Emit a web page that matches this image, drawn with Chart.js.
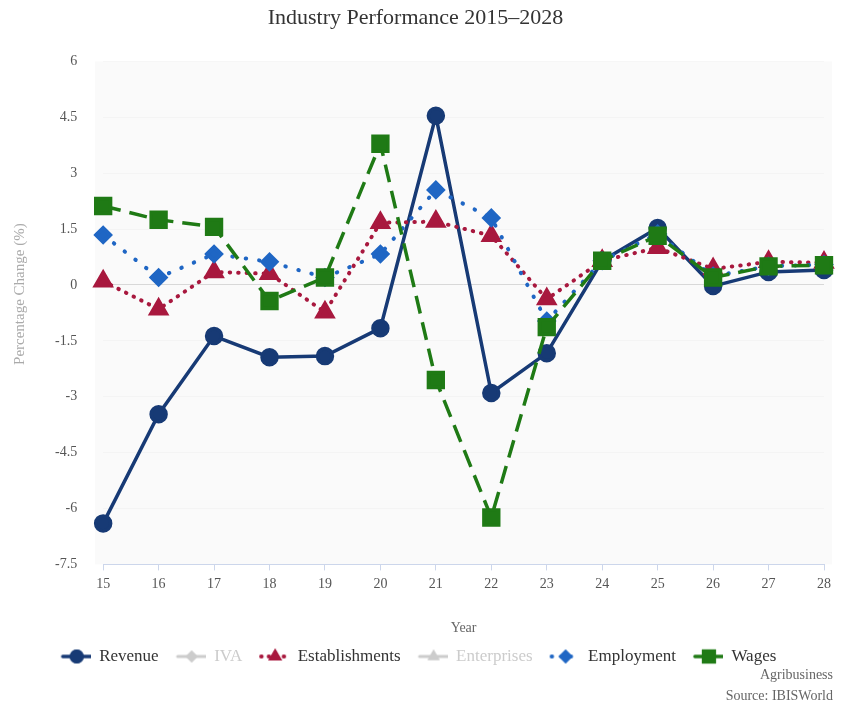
<!DOCTYPE html>
<html>
<head>
<meta charset="utf-8">
<script src="https://cdn.jsdelivr.net/npm/chart.js@4/dist/chart.umd.min.js"></script>
<style>
  body { margin: 0; background: #fff; }
  #wrap { position: relative; width: 846px; height: 706px; }
  .credit { position: absolute; right: 13px; font: 14px "Liberation Serif", serif; color: #666; text-align: right; }
</style>
</head>
<body>
<div id="wrap">
  <canvas id="chartLine"></canvas>
  <div class="credit" style="top: 667px;">Agribusiness</div>
  <div class="credit" style="top: 688px;">Source: IBISWorld</div>
</div>
<script>
const years = ["15", "16", "17", "18", "19", "20", "21", "22", "23", "24", "25", "26", "27", "28"];

const revenue = [-6.4, -3.47, -1.37, -1.94, -1.91, -1.16, 4.54, -2.9, -1.83, 0.65, 1.53, -0.03, 0.35, 0.4];
const iva = [];
const establishments = [0.1, -0.65, 0.35, 0.3, -0.73, 1.67, 1.7, 1.32, -0.38, 0.65, 1.0, 0.43, 0.62, 0.6];
const enterprises = [];
const employment = [1.34, 0.2, 0.83, 0.62, 0.2, 0.83, 2.55, 1.8, -0.97, 0.65, 1.37, 0.24, 0.5, 0.55];
const wages = [2.12, 1.75, 1.56, -0.43, 0.2, 3.79, -2.55, -6.24, -1.13, 0.65, 1.32, 0.2, 0.5, 0.53];

const yMin = -7.5;
const yMax = 6;
const yStep = 1.5;

const serif = "'Liberation Serif', 'Times New Roman', serif";

// legend symbol: short line with the marker in the middle (left 7px kept empty as item spacing)
function legendIcon(color, dash, width, style, radius) {
    const c = document.createElement("canvas");
    c.width = 36;
    c.height = 18;
    const ctx = c.getContext("2d");
    ctx.strokeStyle = color;
    ctx.fillStyle = color;
    ctx.lineWidth = width;
    ctx.lineCap = "round";
    ctx.setLineDash(dash);
    ctx.beginPath();
    ctx.moveTo(8, 9);
    ctx.lineTo(36, 9);
    ctx.stroke();
    ctx.setLineDash([]);
    Chart.helpers.drawPoint(ctx, { pointStyle: style, radius: radius, rotation: 0, borderWidth: 0 }, 22, 9);
    ctx.fill();
    return c;
}

const datasets = [
    {
        label: "Revenue",
        data: revenue,
        borderColor: "#173a75",
        backgroundColor: "#173a75",
        borderWidth: 3.5,
        pointStyle: "circle",
        pointRadius: 7.5,
        pointHoverRadius: 8,
        order: 5,
        icon: legendIcon("#173a75", [], 3.5, "circle", 7),
    },
    {
        label: "IVA",
        data: iva,
        hidden: true,
        borderColor: "#cccccc",
        backgroundColor: "#cccccc",
        pointStyle: "rectRot",
        order: 4,
        icon: legendIcon("#cccccc", [], 3, "rectRot", 6),
    },
    {
        label: "Establishments",
        data: establishments,
        borderColor: "#a8183e",
        backgroundColor: "#a8183e",
        borderWidth: 4,
        borderDash: [0.5, 8],
        borderCapStyle: "round",
        pointStyle: "triangle",
        pointRadius: 8.5,
        pointHoverRadius: 9,
        order: 3,
        icon: legendIcon("#a8183e", [0.5, 7], 4, "triangle", 8),
    },
    {
        label: "Enterprises",
        data: enterprises,
        hidden: true,
        borderColor: "#cccccc",
        backgroundColor: "#cccccc",
        pointStyle: "triangle",
        pointRotation: 180,
        order: 2,
        icon: legendIcon("#cccccc", [], 3, "triangle", 7),
    },
    {
        label: "Employment",
        data: employment,
        borderColor: "#1f66c4",
        backgroundColor: "#1f66c4",
        borderWidth: 4,
        borderDash: [0.5, 13],
        borderCapStyle: "round",
        pointStyle: "rectRot",
        pointRadius: 7,
        pointHoverRadius: 7.5,
        order: 1,
        icon: legendIcon("#1f66c4", [0.5, 9], 4, "rectRot", 7),
    },
    {
        label: "Wages",
        data: wages,
        borderColor: "#1f7a15",
        backgroundColor: "#1f7a15",
        borderWidth: 3.5,
        borderDash: [18, 9],
        pointStyle: "rect",
        pointRadius: 10.5,
        pointHoverRadius: 11,
        order: 0,
        icon: legendIcon("#1f7a15", [], 3.5, "rect", 10),
    },
];

// light fill behind the plot area
const plotBg = {
    id: "plotBg",
    beforeDraw(chart) {
        const a = chart.chartArea;
        chart.ctx.save();
        chart.ctx.fillStyle = "#fafafa";
        chart.ctx.fillRect(a.left - 8, a.top, a.right - a.left + 16, a.bottom - a.top);
        chart.ctx.restore();
    },
};

const configLine = {
    type: "line",
    data: { labels: years, datasets: datasets },
    plugins: [plotBg],
    options: {
        responsive: true,
        maintainAspectRatio: false,
        animation: false,
        layout: { padding: { left: 7, right: 22, top: 0, bottom: 31 } },
        plugins: {
            title: {
                display: true,
                text: "Industry Performance 2015\u20132028",
                color: "#333",
                font: { family: serif, size: 22, weight: "normal" },
                padding: { top: 5, bottom: 30 },
            },
            legend: {
                position: "bottom",
                labels: {
                    usePointStyle: true,
                    pointStyleWidth: 36,
                    padding: 11,
                    font: { family: serif, size: 17 },
                    generateLabels(chart) {
                        return chart.data.datasets.map(function (ds, i) {
                            const hidden = !chart.isDatasetVisible(i);
                            return {
                                text: ds.label,
                                fontColor: hidden ? "#cccccc" : "#333333",
                                pointStyle: ds.icon,
                                hidden: false,
                                datasetIndex: i,
                                lineWidth: 0,
                            };
                        });
                    },
                },
            },
            tooltip: { enabled: true },
        },
        scales: {
            x: {
                offset: false,
                grid: { drawOnChartArea: false, color: "#ccd6eb", tickLength: 6 },
                border: { color: "#ccd6eb" },
                ticks: { color: "#555", font: { family: serif, size: 14 }, padding: 6 },
                title: {
                    display: true,
                    text: "Year",
                    color: "#666",
                    font: { family: serif, size: 14 },
                    padding: { top: 21, bottom: 0 },
                },
            },
            y: {
                min: yMin,
                max: yMax,
                ticks: { stepSize: yStep, color: "#555", font: { family: serif, size: 14 }, padding: 26 },
                grid: {
                    drawTicks: false,
                    color: (c) => (c.tick && c.tick.value === 0 ? "#d8d8d8" : "rgba(0,0,0,0.025)"),
                },
                border: { display: false },
                title: {
                    display: true,
                    // leading figure spaces lift the label a little above the axis centre
                    text: "\u2007\u2007\u2007\u2007\u2007Percentage Change (%)",
                    color: "#aaa",
                    font: { family: serif, size: 15 },
                    padding: { bottom: 0 },
                },
            },
        },
    },
};

let chartLine = new Chart(document.getElementById("chartLine"), configLine);
</script>
</body>
</html>
